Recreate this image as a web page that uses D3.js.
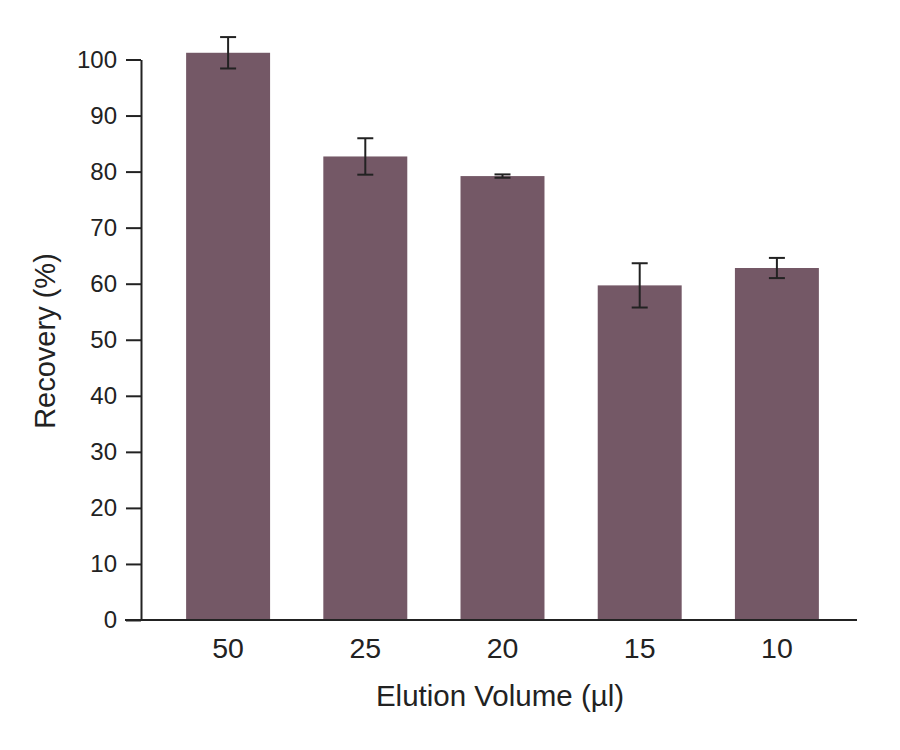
<!DOCTYPE html>
<html>
<head>
<meta charset="utf-8">
<script src="https://cdn.jsdelivr.net/npm/d3@7"></script>
<style>
  body { margin: 0; background: #fff; }
  text { font-family: "Liberation Sans", Arial, sans-serif; fill: #222; }
</style>
</head>
<body>
<div id="chart"></div>
<script>
var volumes = ["50", "25", "20", "15", "10"];
var recovery = [101.2, 82.7, 79.2, 59.7, 62.8];
var errors = [2.8, 3.25, 0.3, 3.95, 1.8];
var yTicks = [0, 10, 20, 30, 40, 50, 60, 70, 80, 90, 100];

var width = 900, height = 750;

var svg = d3.select("#chart")
  .append("svg")
  .attr("width", width)
  .attr("height", height);

// y scale: 0 at 620, 100 at ~59.5
var y = d3.scaleLinear()
  .domain([0, 100])
  .range([620, 59.5]);

// bands sit inside the axis line which runs 141 -> 857
var x = d3.scaleBand()
  .domain(volumes)
  .range([159.5, 845.5])
  .paddingInner(0.388)
  .paddingOuter(0.194);

// bars
svg.selectAll("rect.bar")
  .data(volumes)
  .enter()
  .append("rect")
  .attr("class", "bar")
  .attr("x", function(d) { return x(d); })
  .attr("y", function(d, i) { return y(recovery[i]); })
  .attr("width", x.bandwidth())
  .attr("height", function(d, i) { return y(0) - y(recovery[i]); })
  .attr("fill", "#745866");

// error bars
var eb = svg.selectAll("g.err")
  .data(volumes)
  .enter()
  .append("g")
  .attr("class", "err")
  .attr("stroke", "#222")
  .attr("stroke-width", 2);

eb.append("line")
  .attr("x1", function(d) { return x(d) + x.bandwidth() / 2; })
  .attr("x2", function(d) { return x(d) + x.bandwidth() / 2; })
  .attr("y1", function(d, i) { return y(recovery[i] + errors[i]); })
  .attr("y2", function(d, i) { return y(recovery[i] - errors[i]); });

[1, -1].forEach(function(s) {
  eb.append("line")
    .attr("x1", function(d) { return x(d) + x.bandwidth() / 2 - 8; })
    .attr("x2", function(d) { return x(d) + x.bandwidth() / 2 + 8; })
    .attr("y1", function(d, i) { return y(recovery[i] + s * errors[i]); })
    .attr("y2", function(d, i) { return y(recovery[i] + s * errors[i]); });
});

// Y axis
var yAxis = svg.append("g")
  .attr("transform", "translate(141,0)")
  .call(d3.axisLeft(y).tickValues(yTicks).tickSize(15).tickPadding(9).tickSizeOuter(0));
yAxis.select(".domain").attr("stroke", "#222").attr("stroke-width", 2);
yAxis.selectAll(".tick line").attr("stroke", "#222").attr("stroke-width", 2);
yAxis.selectAll("text").style("font-size", "24px").attr("fill", "#222");

// X axis line (no ticks)
svg.append("line")
  .attr("x1", 125)
  .attr("x2", 857)
  .attr("y1", y(0))
  .attr("y2", y(0))
  .attr("stroke", "#222")
  .attr("stroke-width", 2);

svg.selectAll("text.xlab")
  .data(volumes)
  .enter()
  .append("text")
  .attr("class", "xlab")
  .attr("x", function(d) { return x(d) + x.bandwidth() / 2; })
  .attr("y", 658)
  .attr("text-anchor", "middle")
  .style("font-size", "28.5px")
  .text(function(d) { return d; });

// axis titles
svg.append("text")
  .attr("x", 500)
  .attr("y", 706)
  .attr("text-anchor", "middle")
  .style("font-size", "29.5px")
  .text("Elution Volume (µl)");

svg.append("text")
  .attr("transform", "translate(55,341)rotate(-90)")
  .attr("text-anchor", "middle")
  .style("font-size", "29px")
  .text("Recovery (%)");
</script>
</body>
</html>
